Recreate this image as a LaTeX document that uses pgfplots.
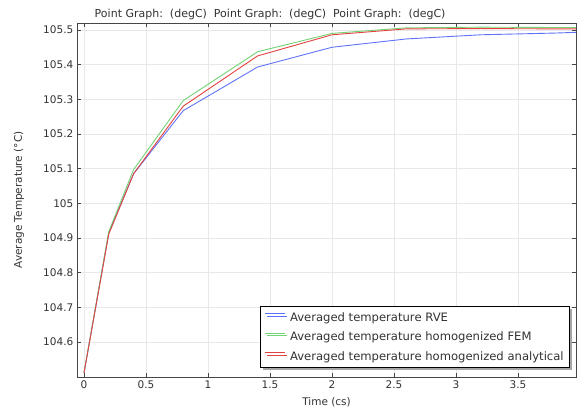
\documentclass[border=0pt]{standalone}
\usepackage{fontspec}
\setmainfont{DejaVu Sans}
\usepackage{pgfplots}
\pgfplotsset{compat=1.18}
\usetikzlibrary{shadows}

\definecolor{cRVE}{RGB}{95,115,250}
\definecolor{cFEM}{RGB}{115,210,115}
\definecolor{cANA}{RGB}{228,65,65}
\definecolor{axgray}{RGB}{70,70,70}
\definecolor{txgray}{RGB}{50,50,50}

\begin{document}
\fontsize{10.5bp}{12bp}\selectfont
\begin{tikzpicture}
\begin{axis}[
    name=ax,
    scale only axis,
    width=499bp, height=354bp,
    xmin=-0.056, xmax=3.968,
    ymin=104.499, ymax=105.52,
    xtick={0,0.5,...,3.5},
    ytick={104.6,104.7,...,105.5},
    yticklabels={104.6,104.7,104.8,104.9,105,105.1,105.2,105.3,105.4,105.5},
    /pgf/number format/assume math mode=true,
    tick label style={font=\fontsize{10.5bp}{12bp}\selectfont, text=txgray},
    label style={font=\fontsize{10.5bp}{12bp}\selectfont, text=txgray},
    xlabel={Time (cs)},
    ylabel={Average Temperature (°C)},
    xlabel style={yshift=-2bp},
    ylabel style={yshift=12bp},
    grid=major,
    grid style={draw=black!9, line width=0.8bp},
    axis line style={draw=axgray, line width=0.8bp},
    tick style={draw=axgray, line width=0.6bp},
    tick align=inside,
    major tick length=4bp,
    title={Point Graph:\ \ (degC)\ \ Point Graph:\ \ (degC)\ \ Point Graph:\ \ (degC)},
    title style={at={(0.387,1)}, anchor=south, yshift=-6bp,
                 font=\fontsize{11bp}{12bp}\selectfont, text=txgray},
    legend style={at={(0.988,0.025)}, anchor=south east,
                  draw=black, line width=0.7bp, fill=white,
                  drop shadow={shadow xshift=2.5bp, shadow yshift=-2.5bp, fill=black!35, opacity=1},
                  font=\fontsize{11.6bp}{13bp}\selectfont, text=txgray,
                  row sep=5bp, inner xsep=4bp, inner ysep=4bp,
                  /tikz/every odd column/.append style={column sep=3bp}},
    legend cell align=left,
    legend image code/.code={\draw[#1, line width=1bp, yshift=4bp] (0bp,0bp) -- (20bp,0bp);},
    every axis plot/.append style={line width=0.9bp},
]
\addplot[cRVE] coordinates {
 (0,104.51) (0.2,104.914) (0.4,105.085) (0.8,105.267) (1.4,105.393)
 (2.0,105.450) (2.6,105.474) (3.2,105.486) (3.8,105.491) (3.968,105.493)
};
\addlegendentry{Averaged temperature RVE}
\addplot[cFEM] coordinates {
 (0,104.51) (0.2,104.918) (0.4,105.097) (0.8,105.296) (1.4,105.437)
 (2.0,105.490) (2.6,105.506) (3.2,105.508) (3.8,105.507) (3.968,105.507)
};
\addlegendentry{Averaged temperature homogenized FEM}
\addplot[cANA] coordinates {
 (0,104.51) (0.2,104.911) (0.4,105.085) (0.8,105.280) (1.4,105.425)
 (2.0,105.486) (2.6,105.503) (3.2,105.504) (3.8,105.503) (3.968,105.503)
};
\addlegendentry{Averaged temperature homogenized analytical}
\end{axis}
\pgfresetboundingbox
\path ([shift={(-77bp,-35bp)}]ax.south west) rectangle ([shift={(1bp,23bp)}]ax.north east);
\end{tikzpicture}
\end{document}
